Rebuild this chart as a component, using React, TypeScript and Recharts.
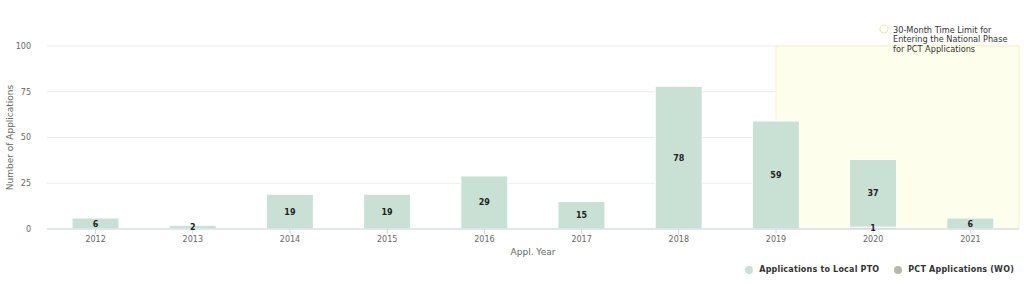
import { BarChart, Bar, XAxis, YAxis, CartesianGrid, Legend, LabelList, ReferenceArea } from "recharts";

// values
const years = ["2012", "2013", "2014", "2015", "2016", "2017", "2018", "2019", "2020", "2021"];
const localPto = [6, 2, 19, 19, 29, 15, 78, 59, 37, 6];
const pctWo = [0, 0, 0, 0, 0, 0, 0, 0, 1, 0];
const yTicks = [0, 25, 50, 75, 100];

// 30-month window: from the middle of 2019 to the end of the axis (category index units)
const bandStart = 7;
const bandEnd = 9.5;

const data = years.map((year, i) => ({
  year,
  idx: i,
  local: localPto[i],
  pct: pctWo[i],
}));

const FONT = "'DejaVu Sans', 'Lucida Grande', Verdana, sans-serif";
const LOCAL_COLOR = "#c9e1d5";
const PCT_COLOR = "#b6b9a8";

const valueLabel = (props: any) => {
  const { x, y, width, height, value } = props;
  if (!value) return null;
  return (
    <text
      x={x + width / 2}
      y={y + height / 2}
      dy={3}
      textAnchor="middle"
      fontSize={8}
      fontWeight="bold"
      fill="#222"
      fontFamily={FONT}
    >
      {value}
    </text>
  );
};

const bandLabel = (props: any) => {
  const { viewBox } = props;
  const cx = viewBox.x + 108;
  const top = viewBox.y - 17;
  return (
    <g fontFamily={FONT} fontSize={8.2} fill="#333">
      <circle cx={cx} cy={top} r={4} fill="none" stroke="#f3e7a6" strokeWidth={1.2} />
      <text x={cx + 9} y={top + 3.5}>30-Month Time Limit for</text>
      <text x={cx + 9} y={top + 13}>Entering the National Phase</text>
      <text x={cx + 9} y={top + 22.5}>for PCT Applications</text>
    </g>
  );
};

const legendContent = () => (
  <div
    style={{
      display: "flex",
      gap: 15,
      fontFamily: FONT,
      fontSize: 8,
      letterSpacing: 0.2,
      fontWeight: "bold",
      color: "#333",
    }}
  >
    {[
      { name: "Applications to Local PTO", color: LOCAL_COLOR },
      { name: "PCT Applications (WO)", color: PCT_COLOR },
    ].map((item) => (
      <div key={item.name} style={{ display: "flex", alignItems: "center" }}>
        <span style={{ width: 8, height: 8, borderRadius: 4, background: item.color, marginRight: 6, display: "inline-block" }} />
        {item.name}
      </div>
    ))}
  </div>
);

export default function App() {
  return (
    <div style={{ position: "absolute", left: 0, top: 0, width: 1024, height: 284, background: "#fff" }}>
      <BarChart width={1024} height={284} data={data} margin={{ top: 46, right: 5, left: 0, bottom: 29 }}>
        <CartesianGrid vertical={false} stroke="#ececec" />
        <XAxis
          dataKey="year"
          height={26}
          tickLine={{ stroke: "#ccd6eb" }}
          tickSize={5}
          axisLine={{ stroke: "#ccd6eb" }}
          tick={{ fill: "#666", fontSize: 8, fontFamily: FONT }}
          label={{ value: "Appl. Year", position: "insideBottom", offset: 0, fill: "#666", fontSize: 9, fontFamily: FONT }}
        />
        <XAxis xAxisId="band" dataKey="idx" type="number" domain={[-0.5, 9.5]} hide />
        <YAxis
          width={47}
          domain={[0, 100]}
          ticks={yTicks}
          axisLine={false}
          tickLine={false}
          tick={{ fill: "#666", fontSize: 8, fontFamily: FONT }}
          tickMargin={10}
          label={{
            content: () => (
              <text
                transform="translate(13,137.5) rotate(-90)"
                textAnchor="middle"
                fill="#666"
                fontSize={9}
                fontFamily={FONT}
              >
                Number of Applications
              </text>
            ),
          }}
        />
        <ReferenceArea
          xAxisId="band"
          x1={bandStart}
          x2={bandEnd}
          y1={0}
          y2={100}
          fill="#fefeec"
          fillOpacity={1}
          stroke="#f6f0c6"
          label={bandLabel}
        />
        <Legend
          layout="horizontal"
          verticalAlign="middle"
          align="center"
          content={legendContent}
          wrapperStyle={{ top: 265, right: 10, left: "auto", width: "auto" }}
        />
        <Bar dataKey="pct" stackId="a" fill={PCT_COLOR} stroke="#fff" barSize={47} isAnimationActive={false}>
          <LabelList dataKey="pct" content={valueLabel} />
        </Bar>
        <Bar dataKey="local" stackId="a" fill={LOCAL_COLOR} stroke="#fff" barSize={47} isAnimationActive={false}>
          <LabelList dataKey="local" content={valueLabel} />
        </Bar>
      </BarChart>
    </div>
  );
}
